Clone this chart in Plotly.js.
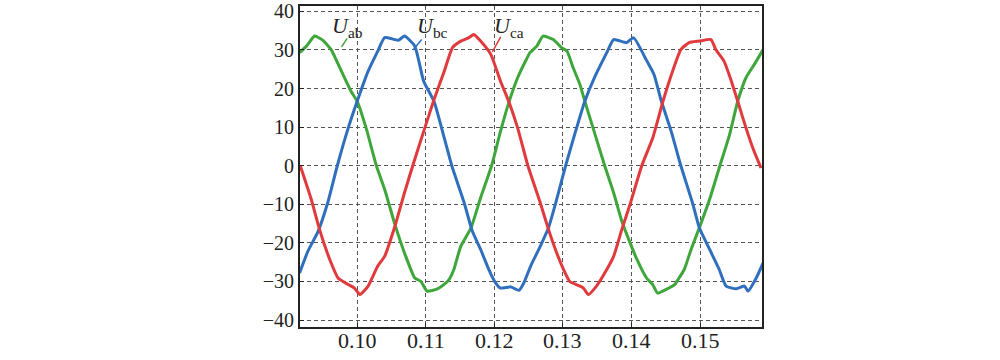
<!DOCTYPE html>
<html>
<head>
<meta charset="utf-8">
<script src="https://cdn.plot.ly/plotly-3.0.1.min.js"></script>
<style>html,body{margin:0;padding:0;background:#fff;}#chart{width:1000px;height:360px;}</style>
</head>
<body>
<div id="chart"></div>
<script>
// Time (s) and voltage (V)
const tAB = [0.0916,0.0926,0.0938,0.0950,0.0962,0.0977,0.0991,0.1000,0.1013,0.1028,0.1040,0.1055,0.1069,0.1084,0.1093,0.1102,0.1117,0.1129,0.1134,0.1141,0.1151,0.1166,0.1180,0.1196,0.1209,0.1221,0.1234,0.1248,0.1252,0.1262,0.1271,0.1286,0.1298,0.1306,0.1315,0.1325,0.1332,0.1344,0.1361,0.1374,0.1386,0.1398,0.1408,0.1422,0.1431,0.1438,0.1450,0.1463,0.1468,0.1477,0.1487,0.1499,0.1514,0.1529,0.1543,0.1555,0.1567,0.1579,0.1592];
const uAB = [29.3,31.0,33.6,32.5,30.1,24.5,19.3,16.7,9.8,0.0,-6.1,-15.2,-22.6,-29.1,-30.0,-32.5,-31.9,-30.4,-29.5,-26.9,-20.9,-16.1,-8.3,0.0,8.9,16.3,22.8,28.0,29.3,31.0,33.6,32.7,30.6,29.7,25.4,21.0,16.7,9.8,0.0,-7.0,-14.4,-20.0,-24.3,-29.1,-30.8,-33.0,-32.1,-30.8,-29.5,-26.9,-21.7,-16.1,-8.7,0.0,8.0,16.7,22.8,26.2,30.1];

const tBC = [0.0916,0.0928,0.0943,0.0957,0.0971,0.0987,0.1000,0.1016,0.1030,0.1040,0.1053,0.1060,0.1069,0.1084,0.1097,0.1112,0.1127,0.1138,0.1156,0.1168,0.1180,0.1192,0.1202,0.1209,0.1224,0.1236,0.1243,0.1253,0.1267,0.1279,0.1289,0.1304,0.1320,0.1332,0.1347,0.1364,0.1374,0.1393,0.1403,0.1422,0.1433,0.1443,0.1458,0.1472,0.1489,0.1499,0.1514,0.1528,0.1538,0.1553,0.1565,0.1570,0.1582,0.1592];
const uBC = [-27.8,-22.2,-17.0,-9.6,0.0,9.8,16.7,24.5,29.7,33.2,32.8,32.5,33.6,31.0,21.9,16.7,7.2,0.0,-9.6,-17.0,-21.7,-26.9,-30.4,-31.7,-31.4,-32.3,-30.4,-26.0,-20.9,-16.1,-10.0,0.0,9.8,16.7,23.2,29.3,32.7,31.9,33.2,27.3,23.6,17.1,8.9,0.0,-9.6,-16.1,-21.7,-26.9,-31.2,-31.9,-31.2,-32.5,-29.1,-25.2];

const tCA = [0.0917,0.0933,0.0943,0.0953,0.0962,0.0972,0.0987,0.0996,0.1004,0.1016,0.1030,0.1040,0.1055,0.1069,0.1081,0.1097,0.1112,0.1127,0.1139,0.1151,0.1163,0.1170,0.1180,0.1195,0.1209,0.1221,0.1234,0.1249,0.1267,0.1279,0.1291,0.1301,0.1310,0.1325,0.1330,0.1337,0.1349,0.1364,0.1374,0.1386,0.1398,0.1415,0.1431,0.1446,0.1460,0.1472,0.1484,0.1499,0.1516,0.1523,0.1535,0.1545,0.1555,0.1567,0.1577,0.1589];
const uCA = [0.0,-8.7,-15.2,-20.9,-25.2,-29.1,-30.8,-31.7,-33.4,-31.2,-26.0,-23.5,-15.7,-7.0,0.0,8.9,17.1,24.5,30.6,32.3,33.2,34.0,32.3,28.8,21.9,16.7,9.8,0.0,-9.6,-16.5,-22.6,-26.9,-30.0,-31.2,-31.7,-33.4,-31.2,-26.9,-23.5,-16.5,-10.0,0.0,7.2,16.7,24.5,30.1,31.9,32.3,32.7,30.1,27.1,22.3,16.7,9.8,4.6,-0.6];

const xTicks = [0.10,0.11,0.12,0.13,0.14,0.15];
const xTickText = ['0.10','0.11','0.12','0.13','0.14','0.15'];
const yTicks = [-40,-30,-20,-10,0,10,20,30,40];

const green = '#3ea63b', blue = '#2f6fbd', red = '#e03a3d';

const lineStyle = c => ({color:c, width:3, shape:'spline', smoothing:0.5});
const traces = [
  {x:tAB, y:uAB, name:'Uab', mode:'lines', line:lineStyle(green)},
  {x:tBC, y:uBC, name:'Ubc', mode:'lines', line:lineStyle(blue)},
  {x:tCA, y:uCA, name:'Uca', mode:'lines', line:lineStyle(red)}
];

const serif = 'Liberation Serif';
const axisCommon = {
  showline:true, linecolor:'#222', linewidth:2, mirror:true,
  showgrid:true, gridcolor:'#555', gridwidth:1, griddash:'4px,3px',
  zeroline:false, ticks:'inside', ticklen:4, tickcolor:'#222',
  tickfont:{family:serif, size:20, color:'#222'}
};

// x tick labels as text placed under each tick value
const xLabelAnns = xTicks.map((v, i) => ({
  x:v, y:0, xref:'x', yref:'paper', xanchor:'center', yanchor:'top', yshift:1,
  showarrow:false, text:xTickText[i], font:{family:serif, size:22, color:'#222'}
}));

const layout = {
  width:1000, height:360,
  margin:{l:300, r:238, t:6, b:33},
  paper_bgcolor:'#fff', plot_bgcolor:'#fff',
  font:{family:serif},
  showlegend:false,
  xaxis:Object.assign({}, axisCommon, {range:[0.09166,0.15904], tickvals:xTicks, showticklabels:false}),
  yaxis:Object.assign({}, axisCommon, {range:[-41.8,41.4], tickvals:yTicks}),
  annotations:[
    {x:0.09603, y:40.2, xref:'x', yref:'y', xanchor:'left', yanchor:'top', showarrow:false, text:'<i>U</i><sub>ab</sub>', font:{family:serif, size:22, color:'#222'}},
    {x:0.10843, y:40.2, xref:'x', yref:'y', xanchor:'left', yanchor:'top', showarrow:false, text:'<i>U</i><sub>bc</sub>', font:{family:serif, size:22, color:'#222'}},
    {x:0.11966, y:40.2, xref:'x', yref:'y', xanchor:'left', yanchor:'top', showarrow:false, text:'<i>U</i><sub>ca</sub>', font:{family:serif, size:22, color:'#222'}}
  ].concat(xLabelAnns),
  shapes:[
    {type:'line', xref:'x', yref:'y', x0:0.09854, y0:33.0, x1:0.09772, y1:30.8, line:{color:green, width:1.5}},
    {type:'line', xref:'x', yref:'y', x0:0.10941, y0:32.7, x1:0.10814, y1:30.0, line:{color:blue, width:1.5}},
    {type:'line', xref:'x', yref:'y', x0:0.12093, y0:33.4, x1:0.11971, y1:29.5, line:{color:red, width:1.5}}
  ]
};

Plotly.newPlot('chart', traces, layout, {staticPlot:true, displayModeBar:false});
</script>
</body>
</html>
